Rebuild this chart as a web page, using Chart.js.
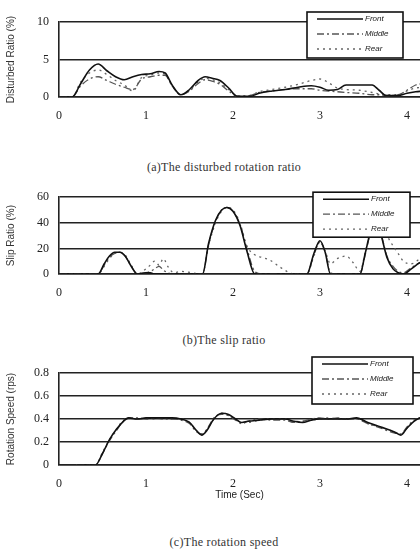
<!DOCTYPE html>
<html>
<head>
<meta charset="utf-8">
<script src="https://cdn.jsdelivr.net/npm/chart.js"></script>
<style>
  html, body { margin: 0; padding: 0; background: #fff; }
  body { width: 420px; height: 553px; position: relative; overflow: hidden; }
  canvas { position: absolute; left: 0; }
  .cap { position: absolute; left: 0; width: 448px; text-align: center; letter-spacing: 0.3px;
         font: 12px "Liberation Serif", serif; color: #333; }
</style>
</head>
<body>
<canvas id="c1" width="420" height="130" style="top:0"></canvas>
<div class="cap" style="top:160px">(a)The disturbed rotation ratio</div>
<canvas id="c2" width="420" height="127" style="top:180px"></canvas>
<div class="cap" style="top:333px">(b)The slip ratio</div>
<canvas id="c3" width="420" height="155" style="top:355px"></canvas>
<div class="cap" style="top:535px">(c)The rotation speed</div>
<script>
// shared
const timeTicks = [0, 1, 2, 3, 4];
const seriesNames = ['Front', 'Middle', 'Rear'];

// (a) disturbed rotation ratio (%)
const t1 = [0, 0.15, 0.25, 0.35, 0.45, 0.55, 0.65, 0.75, 0.85, 0.95, 1.05, 1.15, 1.22, 1.3, 1.4, 1.5, 1.6, 1.68, 1.76, 1.85,
  1.95, 2.05, 2.2, 2.3, 2.45, 2.6, 2.75, 2.9, 3.0, 3.1, 3.2, 3.3, 3.45, 3.6, 3.68, 3.76, 3.9, 4.0, 4.1, 4.2];
const disturbFront = [0, 0, 1.8, 3.6, 4.4, 3.5, 2.7, 2.3, 2.7, 3.0, 3.1, 3.4, 3.2, 1.6, 0.3, 1.0, 2.2, 2.7, 2.5, 2.2,
  1.2, 0.1, 0.1, 0.5, 0.8, 1.0, 1.3, 1.5, 1.3, 0.9, 1.0, 1.6, 1.6, 1.6, 0.9, 0.2, 0.2, 0.5, 0.7, 0.8];
const disturbMiddle = [0, 0, 1.5, 2.4, 2.7, 2.2, 1.7, 1.3, 1.0, 2.4, 2.7, 2.9, 2.9, 1.5, 0.3, 0.8, 1.8, 2.3, 2.1, 1.7,
  0.8, 0.1, 0.2, 0.6, 0.8, 1.0, 1.1, 1.1, 0.9, 0.8, 0.7, 0.6, 0.5, 0.3, 0.3, 0.2, 0.3, 0.9, 1.6, 1.8];
const disturbRear = [0, 0, 2.0, 3.2, 3.6, 3.0, 2.2, 1.6, 0.8, 2.6, 2.9, 3.2, 3.0, 1.5, 0.3, 0.9, 2.0, 2.5, 2.3, 1.9,
  1.0, 0.1, 0.2, 0.7, 1.0, 1.3, 1.7, 2.2, 2.4, 1.9, 1.2, 1.0, 0.9, 0.6, 0.4, 0.3, 0.3, 0.8, 1.2, 1.3];

// (b) slip ratio (%)
const t2 = [0, 0.45, 0.52, 0.58, 0.64, 0.7, 0.76, 0.83, 0.9, 1.0, 1.05, 1.1, 1.15, 1.2, 1.25, 1.32, 1.4, 1.65, 1.72, 1.8,
  1.87, 1.93, 2.0, 2.08, 2.16, 2.25, 2.33, 2.42, 2.55, 2.7, 2.85, 2.93, 3.0, 3.06, 3.12, 3.2, 3.3, 3.38, 3.46, 3.52,
  3.58, 3.64, 3.7, 3.77, 3.84, 3.9, 3.96, 4.05, 4.15, 4.2];
const slipFront = [0, 0, 8, 14, 17, 17, 14, 6, 0, 1, 1, 0, 0, 0, 0, 0, 0, 0, 24, 42,
  50, 52, 49, 38, 18, 0, 0, 0, 0, 0, 0, 16, 26, 17, 0, 0, 0, 0, 0, 16,
  33, 42, 31, 13, 4, 1, 0, 4, 9, 10];
const slipMiddle = [0, 0, 7, 13, 16, 17, 14, 6, 0, 1, 2, 4, 6, 3, 1, 0, 0, 0, 23, 41,
  50, 52, 49, 39, 20, 2, 0, 0, 0, 0, 0, 15, 25, 17, 1, 0, 0, 0, 0, 15,
  32, 42, 32, 14, 6, 2, 1, 5, 9, 11];
const slipRear = [0, 0, 6, 12, 16, 17, 15, 7, 0, 4, 7, 10, 7, 12, 6, 1, 2, 0, 22, 40,
  49, 52, 50, 40, 22, 15, 13, 11, 5, 0, 0, 14, 25, 18, 8, 12, 14, 9, 2, 17,
  33, 42, 40, 30, 22, 16, 10, 8, 12, 14];

// (c) rotation speed (rps)
const t3 = [0.2, 0.3, 0.42, 0.5, 0.58, 0.66, 0.74, 0.8, 0.9, 1.0, 1.1, 1.2, 1.3, 1.4, 1.5, 1.58, 1.64, 1.7, 1.78, 1.87,
  1.95, 2.03, 2.1, 2.17, 2.3, 2.45, 2.6, 2.7, 2.8, 2.9, 3.0, 3.1, 3.2, 3.3, 3.42, 3.55, 3.7, 3.85, 3.93, 4.0,
  4.08, 4.15, 4.2];
const speedFront = [0, 0, 0, 0.1, 0.22, 0.31, 0.38, 0.41, 0.4, 0.41, 0.41, 0.41, 0.41, 0.4, 0.37, 0.3, 0.26, 0.3, 0.4, 0.45,
  0.44, 0.4, 0.37, 0.38, 0.39, 0.4, 0.4, 0.38, 0.37, 0.39, 0.4, 0.4, 0.4, 0.4, 0.41, 0.37, 0.33, 0.29, 0.26, 0.32,
  0.38, 0.41, 0.42];
const speedMiddle = [0, 0, 0, 0.1, 0.21, 0.3, 0.38, 0.41, 0.41, 0.4, 0.41, 0.4, 0.4, 0.39, 0.36, 0.29, 0.27, 0.31, 0.41, 0.44,
  0.43, 0.39, 0.36, 0.38, 0.4, 0.39, 0.39, 0.37, 0.38, 0.4, 0.41, 0.4, 0.41, 0.4, 0.4, 0.36, 0.32, 0.28, 0.27, 0.33,
  0.39, 0.41, 0.42];
const speedRear = [0, 0, 0, 0.11, 0.22, 0.31, 0.39, 0.41, 0.4, 0.4, 0.4, 0.41, 0.4, 0.4, 0.37, 0.3, 0.27, 0.31, 0.4, 0.45,
  0.43, 0.4, 0.37, 0.37, 0.39, 0.4, 0.4, 0.38, 0.38, 0.39, 0.4, 0.41, 0.4, 0.4, 0.4, 0.36, 0.33, 0.29, 0.27, 0.32,
  0.38, 0.41, 0.42];

const styles = [
  { borderColor: '#111', borderWidth: 1.6, borderDash: [] },
  { borderColor: '#555', borderWidth: 1.3, borderDash: [7, 3, 2, 3] },
  { borderColor: '#666', borderWidth: 1.3, borderDash: [2, 4] }
];

// legend box drawn over the plot, top right
const boxLegend = {
  id: 'boxLegend',
  afterDraw(chart, args, o) {
    const ctx = chart.ctx, a = chart.chartArea;
    const x = a.right - o.right - o.w, y = a.top + o.top;
    ctx.save();
    ctx.fillStyle = '#fff';
    ctx.fillRect(x, y, o.w, o.h);
    ctx.lineWidth = 1.6;
    ctx.strokeStyle = '#111';
    ctx.strokeRect(x, y, o.w, o.h);
    chart.data.datasets.forEach((ds, i) => {
      const ly = y + 7 + i * 15;
      ctx.beginPath();
      ctx.setLineDash(ds.borderDash);
      ctx.strokeStyle = ds.borderColor;
      ctx.lineWidth = ds.borderWidth;
      ctx.moveTo(x + 10, ly);
      ctx.lineTo(x + 56, ly);
      ctx.stroke();
      ctx.setLineDash([]);
      ctx.fillStyle = '#222';
      ctx.font = 'italic 8px "Liberation Sans"';
      ctx.textBaseline = 'middle';
      ctx.fillText(ds.label, x + 58, ly);
    });
    ctx.restore();
  }
};

function makeChart(id, t, series, y, legend, xTitle, padTop, xH) {
  return new Chart(document.getElementById(id), {
    type: 'line',
    data: {
      datasets: series.map((vals, i) => Object.assign({
        label: seriesNames[i],
        data: vals.map((v, k) => ({ x: t[k], y: v })),
        pointRadius: 0,
        fill: false,
        cubicInterpolationMode: 'monotone'
      }, styles[i]))
    },
    options: {
      responsive: false,
      animation: false,
      layout: { padding: { top: padTop, left: 0, right: 0, bottom: 0 } },
      plugins: { legend: { display: false }, tooltip: { enabled: false }, boxLegend: legend },
      scales: {
        x: {
          type: 'linear', min: 0, max: 4.15,
          afterBuildTicks: s => { s.ticks = timeTicks.map(v => ({ value: v })); },
          afterFit: s => { s.height = xH; },
          grid: { display: false },
          border: { color: '#222', width: 1.6 },
          ticks: { color: '#222', padding: 4, font: { family: 'Liberation Serif', size: 12 } },
          title: { display: !!xTitle, text: xTitle, color: '#222', padding: { top: 0, bottom: 9 },
                   font: { family: 'Liberation Sans', size: 10 } }
        },
        y: {
          min: y.min, max: y.max,
          afterBuildTicks: s => { s.ticks = y.ticks.map(v => ({ value: v })); },
          afterFit: s => { s.width = 59; },
          grid: { color: '#222', lineWidth: 1.6, drawTicks: false },
          border: { color: '#222', width: 1.6 },
          ticks: { color: '#222', padding: 10, font: { family: 'Liberation Serif', size: 12 } },
          title: { display: true, text: y.title, color: '#333', padding: { top: 5, bottom: 0 },
                   font: { family: 'Liberation Sans', size: 10 } }
        }
      }
    },
    plugins: [boxLegend]
  });
}

makeChart('c1', t1, [disturbFront, disturbMiddle, disturbRear],
  { min: 0, max: 10, ticks: [0, 5, 10], title: 'Disturbed Ratio (%)' },
  { right: 17, top: -10, w: 96, h: 46 }, '', 22, 33);
makeChart('c2', t2, [slipFront, slipMiddle, slipRear],
  { min: 0, max: 60, ticks: [0, 20, 40, 60], title: 'Slip Ratio (%)' },
  { right: 10, top: -5, w: 97, h: 45 }, '', 12, 33);
makeChart('c3', t3, [speedFront, speedMiddle, speedRear],
  { min: 0, max: 0.8, ticks: [0, 0.2, 0.4, 0.6, 0.8], title: 'Rotation Speed (rps)' },
  { right: 7, top: -16, w: 101, h: 47 }, 'Time (Sec)', 18, 45);
</script>
</body>
</html>
